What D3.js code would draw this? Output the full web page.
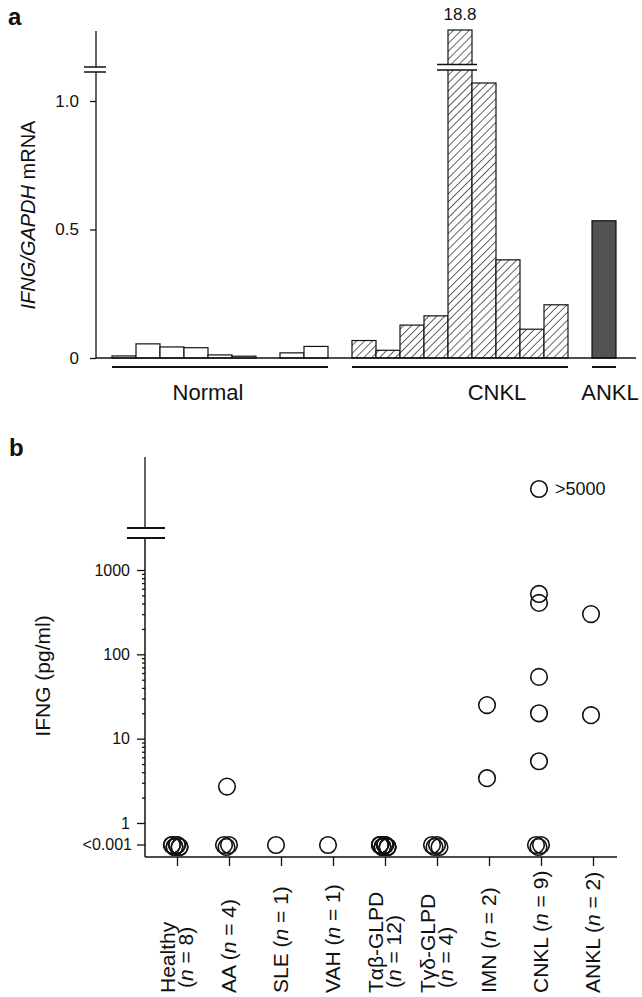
<!DOCTYPE html>
<html>
<head>
<meta charset="utf-8">
<script src="https://cdn.jsdelivr.net/npm/d3@7"></script>
<style>
  body { margin: 0; background: #fff; }
  svg text { font-family: "Liberation Sans", Arial, Helvetica, sans-serif; fill: #111; }
  .axis path.domain { display: none; }
  .axis line { stroke: #111; stroke-width: 1.3; }
</style>
</head>
<body>
<div id="svg-container"></div>
<script>
////////////////////////////////////////////////////////////////////
////////////////////////////  Data  ////////////////////////////////
// panel a : IFNG/GAPDH mRNA
const normalVals = [0.008, 0.055, 0.043, 0.04, 0.012, 0.007, 0, 0.02, 0.045];
const cnklVals = [0.068, 0.03, 0.128, 0.164, 18.8, 1.07, 0.382, 0.112, 0.207];
const anklVals = [0.534];
const groupNames = ["Normal", "CNKL", "ANKL"];
const aTicks = [0, 0.5, 1.0];

// panel b : serum IFNG (pg/ml)
const categories = ["Healthy", "AA", "SLE", "VAH", "Tab", "Tgd", "IMN", "CNKL", "ANKL"];
const catLabels = [
  ["Healthy", "(n = 8)"],
  ["AA (n = 4)"],
  ["SLE (n = 1)"],
  ["VAH (n = 1)"],
  ["Tαβ-GLPD", "(n = 12)"],
  ["Tγδ-GLPD", "(n = 4)"],
  ["IMN (n = 2)"],
  ["CNKL (n = 9)"],
  ["ANKL (n = 2)"]
];
const LOW = "<0.001", HIGH = ">5000";
const healthyVals = [LOW, LOW, LOW, LOW, LOW, LOW, LOW, LOW];
const aaVals = [2.7, LOW, LOW, LOW];
const sleVals = [LOW];
const vahVals = [LOW];
const tabVals = [LOW, LOW, LOW, LOW, LOW, LOW, LOW, LOW, LOW, LOW, LOW, LOW];
const tgdVals = [LOW, LOW, LOW, LOW];
const imnVals = [25, 3.4];
const cnklSerum = [HIGH, 520, 407, 54, 20, 5.4, LOW, LOW, LOW];
const anklSerum = [300, 19];
const serumVals = [healthyVals, aaVals, sleVals, vahVals, tabVals, tgdVals, imnVals, cnklSerum, anklSerum];
const bTicks = [1, 10, 100, 1000];

////////////////////////////////////////////////////////////////////
////////////////////////////  Init  ////////////////////////////////
const width = 642, height = 997;
const svg = d3.select("#svg-container").append("svg")
  .attr("width", width).attr("height", height);

const defs = svg.append("defs");
defs.append("pattern")
  .attr("id", "hatch")
  .attr("patternUnits", "userSpaceOnUse")
  .attr("width", 5.6).attr("height", 5.6)
  .attr("patternTransform", "rotate(45)")
  .call(p => p.append("rect").attr("width", 5.6).attr("height", 5.6).attr("fill", "#fff"))
  .append("line")
  .attr("x1", 0).attr("y1", 0).attr("x2", 0).attr("y2", 5.6)
  .attr("stroke", "#111").attr("stroke-width", 1.3);

// panel letters
svg.append("text").attr("x", 8).attr("y", 25).attr("font-size", 24).attr("font-weight", "bold").text("a");
svg.append("text").attr("x", 9).attr("y", 456).attr("font-size", 24).attr("font-weight", "bold").text("b");

////////////////////////////////////////////////////////////////////
////////////////////////////  Panel a  /////////////////////////////
const aBars = [
  ...normalVals.map((v, i) => ({ slot: i, v, grp: "Normal" })),
  ...cnklVals.map((v, i) => ({ slot: 10 + i, v, grp: "CNKL" })),
  ...anklVals.map((v, i) => ({ slot: 20 + i, v, grp: "ANKL" }))
];
const xA = d3.scaleBand().domain(d3.range(21)).range([112, 616]);
const yA = d3.scaleLinear().domain([0, 1]).range([358, 101]);
const aAxisX = 96, aTop = 31, aBreak = [67, 72], aCapTop = 30, aCapMax = 1.15;

const fillFor = { Normal: "#fff", CNKL: "url(#hatch)", ANKL: "#525252" };

// bars
svg.append("g").selectAll("rect")
  .data(aBars)
  .enter()
  .append("rect")
  .attr("x", d => xA(d.slot))
  .attr("y", d => d.v > aCapMax ? aCapTop : yA(d.v))
  .attr("width", xA.bandwidth())
  .attr("height", d => yA(0) - (d.v > aCapMax ? aCapTop : yA(d.v)))
  .attr("fill", d => fillFor[d.grp])
  .attr("stroke", "#111")
  .attr("stroke-width", 1.2);

// broken bar
const bigBar = aBars.filter(d => d.v > aCapMax);
bigBar.forEach(d => {
  const bx = xA(d.slot), bw = xA.bandwidth();
  svg.append("rect").attr("x", bx - 1).attr("y", 64.5).attr("width", bw + 2).attr("height", 5.5).attr("fill", "#fff");
  [64.5, 70].forEach(y => {
    svg.append("line").attr("x1", bx - 11).attr("x2", bx + bw + 5)
      .attr("y1", y).attr("y2", y).attr("stroke", "#111").attr("stroke-width", 1.5);
  });
  svg.append("text").attr("x", bx + bw / 2).attr("y", 20)
    .attr("text-anchor", "middle").attr("font-size", 17).text(d.v);
});

// baseline
svg.append("line").attr("x1", aAxisX).attr("x2", 636)
  .attr("y1", yA(0)).attr("y2", yA(0)).attr("stroke", "#111").attr("stroke-width", 1.3);

// y axis with break
svg.append("line").attr("x1", aAxisX).attr("x2", aAxisX).attr("y1", yA(0)).attr("y2", aBreak[1])
  .attr("stroke", "#111").attr("stroke-width", 1.3);
svg.append("line").attr("x1", aAxisX).attr("x2", aAxisX).attr("y1", aBreak[0]).attr("y2", aTop)
  .attr("stroke", "#111").attr("stroke-width", 1.3);
aBreak.forEach(y => {
  svg.append("line").attr("x1", 84).attr("x2", 106).attr("y1", y).attr("y2", y)
    .attr("stroke", "#111").attr("stroke-width", 1.5);
});

svg.append("g")
  .attr("class", "axis")
  .attr("transform", `translate(${aAxisX},0)`)
  .call(d3.axisLeft(yA).tickValues(aTicks).tickSize(6).tickPadding(11)
    .tickFormat(d => d === 0 ? "0" : d.toFixed(1)))
  .call(g => g.selectAll("text").attr("font-size", 17).attr("fill", "#111"));

// y label
const yLabA = svg.append("text")
  .attr("transform", "translate(35,215) rotate(-90)")
  .attr("text-anchor", "middle").attr("font-size", 20);
yLabA.append("tspan").attr("font-style", "italic").text("IFNG/GAPDH");
yLabA.append("tspan").text(" mRNA");

// group underlines + labels
const groupLabelDx = { Normal: -12, CNKL: 37, ANKL: 6 };
groupNames.forEach(name => {
  const slots = aBars.filter(d => d.grp === name).map(d => d.slot);
  const x0 = xA(d3.min(slots)), x1 = xA(d3.max(slots)) + xA.bandwidth();
  svg.append("line").attr("x1", x0).attr("x2", x1).attr("y1", 367).attr("y2", 367)
    .attr("stroke", "#111").attr("stroke-width", 2);
  svg.append("text").attr("x", (x0 + x1) / 2 + groupLabelDx[name]).attr("y", 400)
    .attr("text-anchor", "middle").attr("font-size", 22).text(name);
});

////////////////////////////////////////////////////////////////////
////////////////////////////  Panel b  /////////////////////////////
const xB = d3.scalePoint().domain(categories).range([177, 593]);
const yB = d3.scaleLog().domain([1, 1000]).range([823, 570]);
const yLow = 845, yHigh = 489;
const bAxisX = 145, bAxisY = 857, bTop = 457, bBreak = [528, 538];
const yPos = v => v === LOW ? yLow : v === HIGH ? yHigh : yB(v);

// y axis line with break
svg.append("line").attr("x1", bAxisX).attr("x2", bAxisX).attr("y1", bAxisY).attr("y2", bBreak[1])
  .attr("stroke", "#111").attr("stroke-width", 1.5);
svg.append("line").attr("x1", bAxisX).attr("x2", bAxisX).attr("y1", bBreak[0]).attr("y2", bTop)
  .attr("stroke", "#111").attr("stroke-width", 1.3);
bBreak.forEach(y => {
  svg.append("line").attr("x1", 127).attr("x2", 165).attr("y1", y).attr("y2", y)
    .attr("stroke", "#111").attr("stroke-width", 2);
});

// major ticks
svg.append("g")
  .attr("class", "axis")
  .attr("transform", `translate(${bAxisX},0)`)
  .call(d3.axisLeft(yB).tickValues(bTicks).tickSize(8).tickPadding(7).tickFormat(d3.format("d")))
  .call(g => g.selectAll("text").attr("font-size", 16).attr("fill", "#111"));

// minor ticks
const minorTicks = [1, 10, 100].flatMap(k => d3.range(2, 10).map(m => m * k));
svg.append("g")
  .attr("class", "axis")
  .attr("transform", `translate(${bAxisX},0)`)
  .call(d3.axisLeft(yB).tickValues(minorTicks).tickSize(3).tickFormat(""));

// <0.001 tick
svg.append("line").attr("x1", bAxisX - 8).attr("x2", bAxisX).attr("y1", yLow).attr("y2", yLow)
  .attr("stroke", "#111").attr("stroke-width", 1.3);
svg.append("text").attr("x", bAxisX - 13).attr("y", yLow).attr("dy", "0.32em")
  .attr("text-anchor", "end").attr("font-size", 16).text(LOW);

// x axis
svg.append("line").attr("x1", bAxisX).attr("x2", 617).attr("y1", bAxisY).attr("y2", bAxisY)
  .attr("stroke", "#111").attr("stroke-width", 1.5);
svg.append("g")
  .attr("class", "axis")
  .attr("transform", `translate(0,${bAxisY})`)
  .call(d3.axisBottom(xB).tickSize(9).tickFormat(""));

// points
const points = serumVals.flatMap((vals, ci) => {
  let j = 0;
  return vals.map(v => {
    const low = v === LOW;
    const k = low ? j++ : 0;
    return { cat: categories[ci], v, dx: low ? (k % 4) * 2.5 - 3 : 0, dy: low ? (k % 2) * 2 : 0 };
  });
});

svg.append("g").selectAll("circle")
  .data(points)
  .enter()
  .append("circle")
  .attr("cx", d => xB(d.cat) - 2 + d.dx)
  .attr("cy", d => yPos(d.v) + d.dy)
  .attr("r", 8.3)
  .attr("fill", "none")
  .attr("stroke", "#111")
  .attr("stroke-width", 1.6);

points.filter(d => d.v === HIGH).forEach(d => {
  svg.append("text").attr("x", xB(d.cat) + 14).attr("y", yHigh).attr("dy", "0.35em")
    .attr("font-size", 18).text(HIGH);
});

// y label
svg.append("text")
  .attr("transform", "translate(50,676) rotate(-90)")
  .attr("text-anchor", "middle").attr("font-size", 21)
  .text("IFNG (pg/ml)");

// category labels (rotated, starting from the bottom)
function addLabelLine(x, str, indent) {
  const t = svg.append("text")
    .attr("transform", `translate(${x},993) rotate(-90)`)
    .attr("x", indent)
    .attr("font-size", 21);
  const idx = str.indexOf("(n");
  if (idx < 0) { t.text(str); return; }
  t.append("tspan").text(str.slice(0, idx + 1));
  t.append("tspan").attr("font-style", "italic").text("n");
  t.append("tspan").text(str.slice(idx + 2));
}

catLabels.forEach((lines, i) => {
  const x = xB(categories[i]);
  if (lines.length === 1) {
    addLabelLine(x + 7, lines[0], 0);
  } else {
    addLabelLine(x - 2, lines[0], 0);
    addLabelLine(x + 16, lines[1], 5);
  }
});
</script>
</body>
</html>
